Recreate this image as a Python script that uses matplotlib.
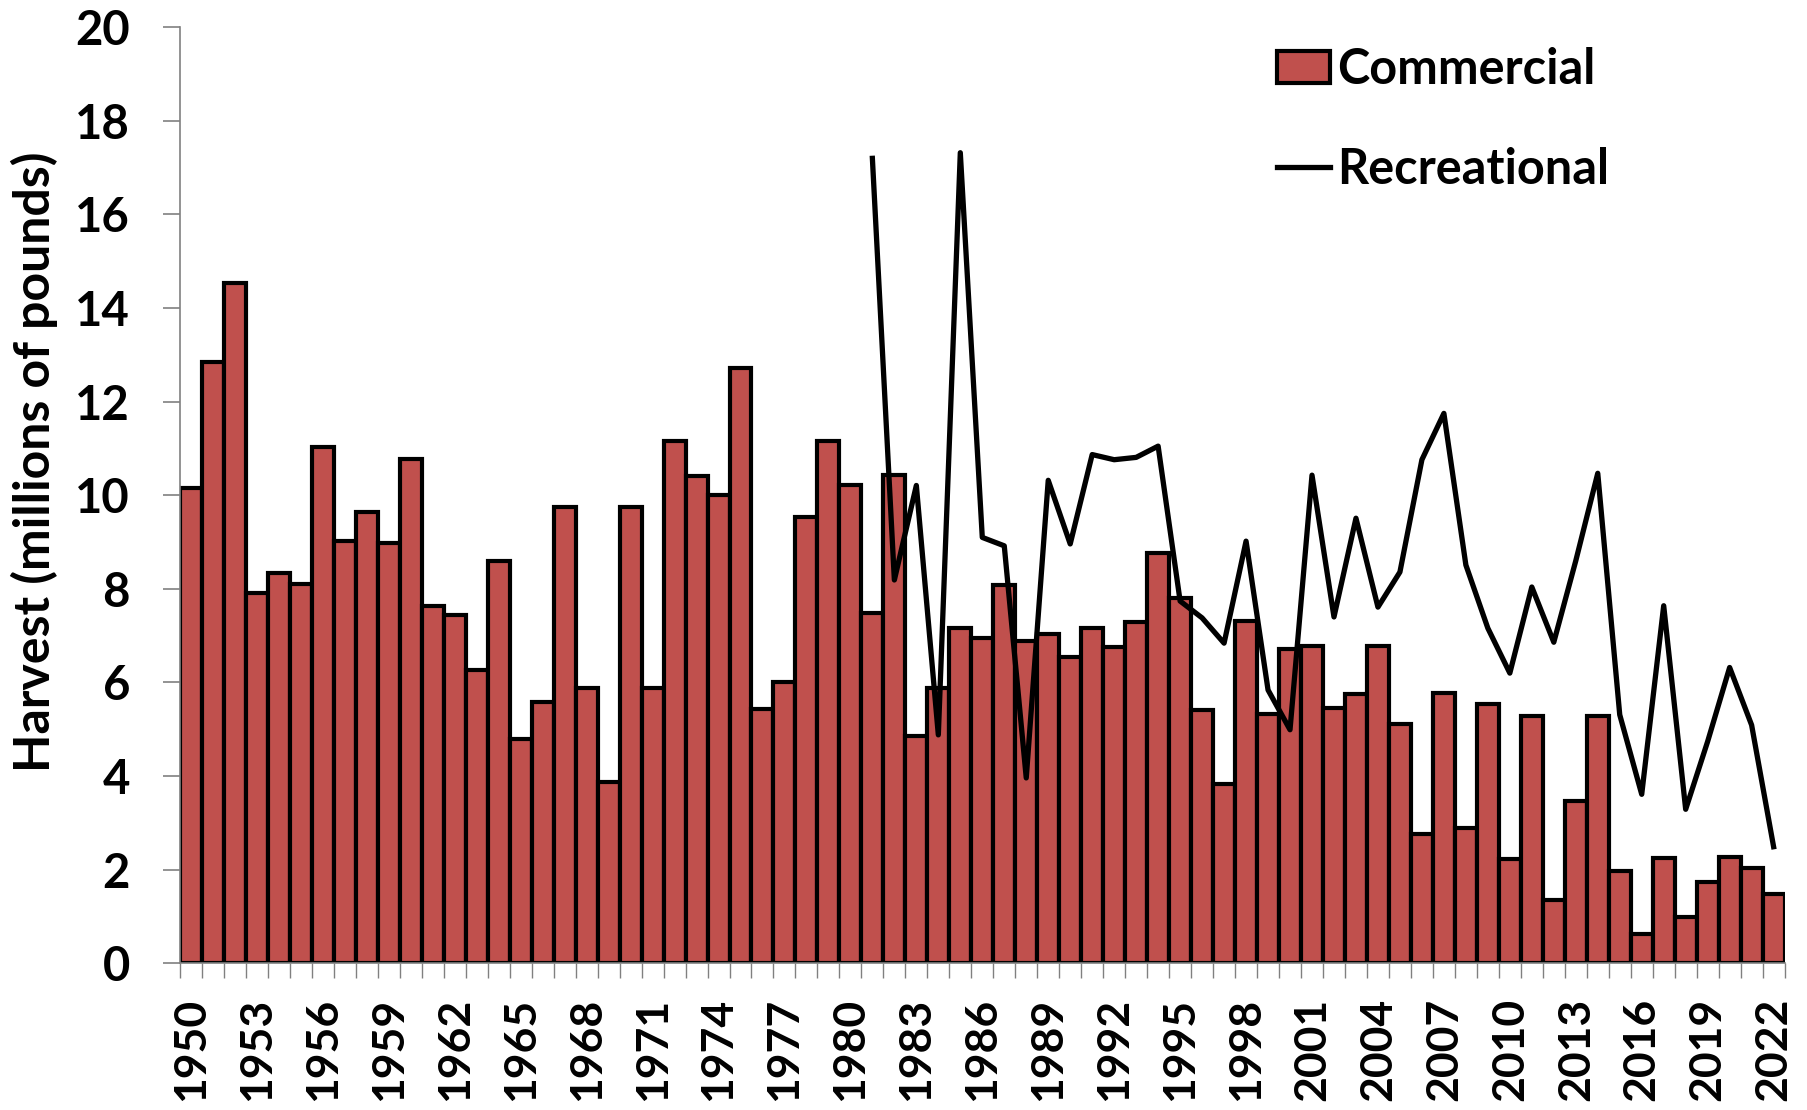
import numpy as np
import matplotlib.pyplot as plt

plt.rcParams['font.family'] = ['Lato', 'DejaVu Sans']
plt.rcParams['font.weight'] = 'bold'
plt.rcParams['axes.labelweight'] = 'bold'

years = np.arange(1950, 2023)
commercial = [10.16, 12.85, 14.53, 7.92, 8.33, 8.11, 11.04, 9.02, 9.65, 8.98,
              10.78, 7.64, 7.44, 6.26, 8.60, 4.79, 5.58, 9.76, 5.89, 3.88,
              9.75, 5.88, 11.16, 10.41, 10.01, 12.73, 5.44, 6.02, 9.53, 11.16,
              10.21, 7.48, 10.43, 4.86, 5.88, 7.16, 6.95, 8.08, 6.88, 7.03,
              6.55, 7.16, 6.76, 7.30, 8.77, 7.81, 5.42, 3.83, 7.31, 5.32,
              6.72, 6.79, 5.45, 5.76, 6.77, 5.11, 2.76, 5.77, 2.89, 5.54,
              2.22, 5.29, 1.36, 3.46, 5.29, 1.97, 0.63, 2.25, 0.99, 1.74,
              2.27, 2.04, 1.49]

rec_years = np.arange(1981, 2023)
recreational = [17.2, 8.19, 10.21, 4.88, 17.32, 9.10, 8.92, 3.96, 10.32, 8.96,
                10.87, 10.76, 10.81, 11.05, 7.74, 7.38, 6.84, 9.02, 5.84, 4.99,
                10.43, 7.40, 9.51, 7.61, 8.36, 10.76, 11.75, 8.51, 7.16, 6.20,
                8.04, 6.86, 8.60, 10.47, 5.31, 3.61, 7.64, 3.29, 4.74, 6.32,
                5.09, 2.49]

fig = plt.figure(figsize=(18.07, 11.10), dpi=100)
ax = fig.add_axes([0.0996, 0.1322, 0.888, 0.8432])

bars = ax.bar(years, commercial, width=1.0, color='#C0504D', edgecolor='black',
              linewidth=3.0, label='Commercial', zorder=2)
line, = ax.plot(rec_years, recreational, color='black', linewidth=3.8,
                label='Recreational', zorder=3)

ax.set_xlim(years[0] - 0.5, years[-1] + 0.5)
ax.set_ylim(0, 20)
ax.set_yticks(np.arange(0, 21, 2))
ax.tick_params(axis='y', labelsize=34, length=12, width=1.2, color='#808080', pad=24)

label_years = years[::3]
ax.set_xticks(label_years)
ax.set_xticklabels([str(y) for y in label_years], rotation=90, fontsize=32)
ax.tick_params(axis='x', which='major', length=0, pad=25)
ax.set_xticks(np.arange(years[0] - 0.5, years[-1] + 1.0, 1.0), minor=True)
ax.tick_params(axis='x', which='minor', length=11, width=1.0, color='#808080')

for s in ['top', 'right']:
    ax.spines[s].set_visible(False)
ax.spines['left'].set_color('#808080')
ax.spines['left'].set_linewidth(1.2)
ax.spines['bottom'].set_color('#808080')
ax.spines['bottom'].set_linewidth(1.2)

ax.set_ylabel('Harvest (millions of pounds)', fontsize=36)
ax.yaxis.set_label_coords(-0.076, 0.536)

ax.legend([bars, line], ['Commercial', 'Recreational'], loc='upper left',
          bbox_to_anchor=(0.696, 0.975), bbox_transform=fig.transFigure,
          frameon=False, fontsize=35, handlelength=1.09, handleheight=0.64,
          handletextpad=0.15, labelspacing=1.12, borderaxespad=0)

fig.savefig('out.png', dpi=100)
